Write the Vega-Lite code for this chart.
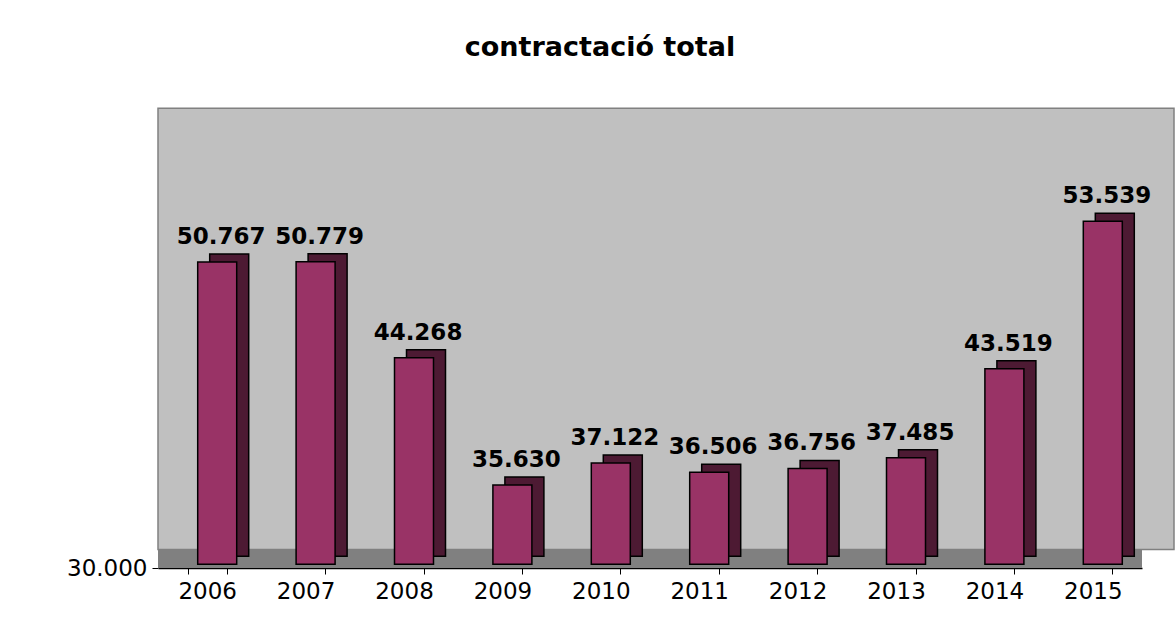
{
  "$schema": "https://vega.github.io/schema/vega-lite/v6.json",
  "width": 984,
  "height": 442,
  "autosize": "none",
  "padding": {"left": 158, "top": 126, "right": 34, "bottom": 67},
  "background": "white",
  "config": {
    "locale": {"number": {"decimal": ",", "thousands": ".", "grouping": [3], "currency": ["", " €"]}},
    "font": "DejaVu Sans",
    "view": {"fill": "#C0C0C0", "stroke": null}
  },
  "title": {
    "text": "contractació total",
    "font": "DejaVu Sans",
    "fontSize": 27,
    "fontWeight": "bold",
    "color": "black",
    "anchor": "middle",
    "frame": "group",
    "dx": -50,
    "offset": 46
  },
  "datasets": {
    "contractes": [
      {"year": "2006", "value": 50767},
      {"year": "2007", "value": 50779},
      {"year": "2008", "value": 44268},
      {"year": "2009", "value": 35630},
      {"year": "2010", "value": 37122},
      {"year": "2011", "value": 36506},
      {"year": "2012", "value": 36756},
      {"year": "2013", "value": 37485},
      {"year": "2014", "value": 43519},
      {"year": "2015", "value": 53539}
    ],
    "parets": [
      {"part": "wall", "y0": 31250, "y1": 61200},
      {"part": "floor", "y0": 30000, "y1": 31250}
    ]
  },
  "layer": [
    {
      "data": {"name": "parets"},
      "transform": [{"filter": "datum.part === 'wall'"}],
      "mark": {"type": "rect", "color": "#C0C0C0", "stroke": "#808080", "strokeWidth": 1.5, "xOffset": 32, "x2Offset": 32},
      "encoding": {
        "y": {
          "field": "y0",
          "type": "quantitative",
          "scale": {"domain": [30000, 60000], "nice": false, "zero": false},
          "axis": {
            "title": null,
            "values": [30000],
            "format": ",.0f",
            "labelFont": "DejaVu Sans",
            "labelFontSize": 23,
            "labelColor": "black",
            "labelPadding": 5,
            "domain": false,
            "grid": false,
            "tickColor": "black",
            "tickSize": 6
          }
        },
        "y2": {"field": "y1"}
      }
    },
    {
      "data": {"name": "parets"},
      "transform": [{"filter": "datum.part === 'floor'"}],
      "mark": {"type": "rect", "color": "#808080"},
      "encoding": {
        "y": {"field": "y0", "type": "quantitative"},
        "y2": {"field": "y1"}
      }
    },
    {
      "data": {"name": "contractes"},
      "encoding": {
        "x": {
          "field": "year",
          "type": "ordinal",
          "scale": {"paddingInner": 0.6, "paddingOuter": 0.3},
          "axis": {
            "title": null,
            "labelAngle": 0,
            "labelFont": "DejaVu Sans",
            "labelFontSize": 23,
            "labelColor": "black",
            "labelPadding": 6,
            "domainColor": "black",
            "domainWidth": 1.5,
            "tickColor": "black",
            "tickSize": 6,
            "tickBand": "extent"
          }
        },
        "y": {
          "field": "value",
          "type": "quantitative"
        }
      },
      "layer": [
        {
          "mark": {"type": "bar", "color": "#4D1A33", "stroke": "black", "strokeWidth": 1.5, "xOffset": 22, "yOffset": -8, "y2Offset": -8, "width": 39},
          "encoding": {"y2": {"datum": 30250}}
        },
        {
          "mark": {"type": "bar", "color": "#993366", "stroke": "black", "strokeWidth": 1.5, "xOffset": 10, "width": 39},
          "encoding": {"y2": {"datum": 30250}}
        },
        {
          "mark": {"type": "text", "font": "DejaVu Sans", "fontSize": 23, "fontWeight": "bold", "color": "black", "baseline": "bottom", "dy": -13, "dx": 14},
          "encoding": {
            "text": {"field": "value", "type": "quantitative", "format": ",.0f"}
          }
        }
      ]
    }
  ]
}
